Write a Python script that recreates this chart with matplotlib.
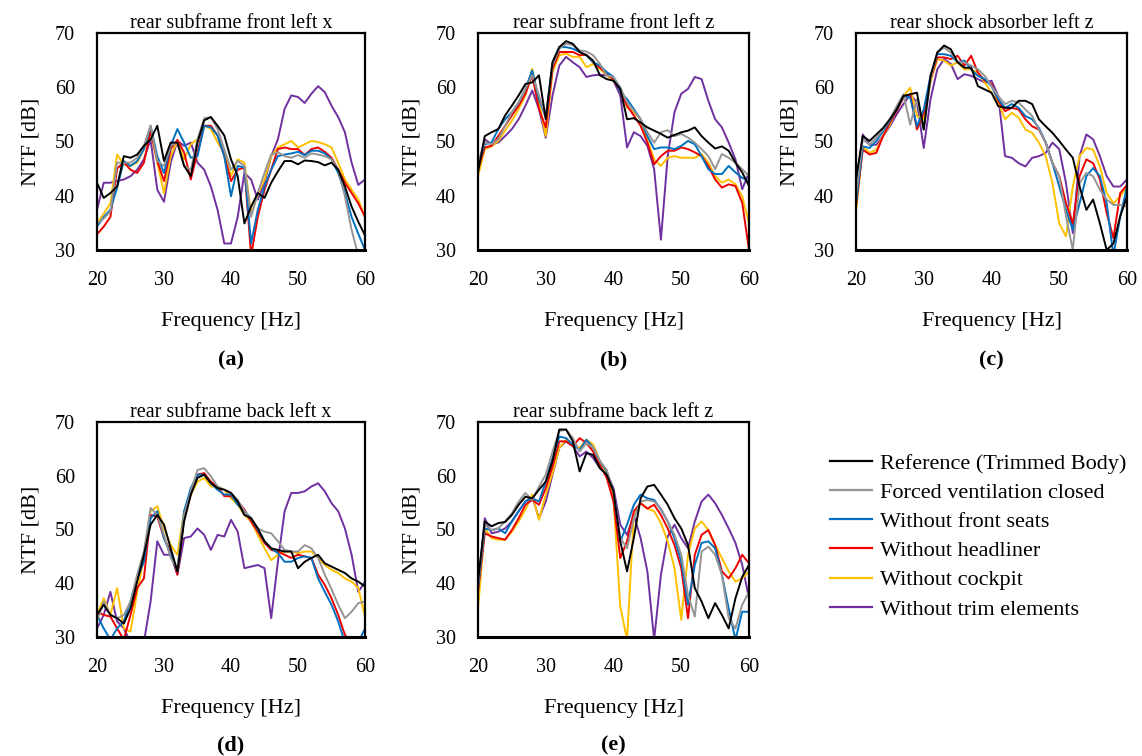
"""
NTF comparison at rear chassis points, five panels + shared legend
"""

import numpy as np
import matplotlib
matplotlib.use("Agg")
import matplotlib.pyplot as plt

plt.rcParams['font.family'] = ['Liberation Serif', 'DejaVu Serif']
plt.rcParams['axes.unicode_minus'] = False

# frequency grid [Hz]
freq = np.arange(20, 61)

series_labels = ['Reference (Trimmed Body)', 'Forced ventilation closed', 'Without front seats',
                 'Without headliner', 'Without cockpit', 'Without trim elements']
series_colors = ['#000000', '#959595', '#0070c0', '#ee0000', '#ffc000', '#7030a0']

panel_titles = ['rear subframe front left x', 'rear subframe front left z',
                'rear shock absorber left z', 'rear subframe back left x',
                'rear subframe back left z']
panel_tags = ['(a)', '(b)', '(c)', '(d)', '(e)']

xticks = [20, 30, 40, 50, 60]
yticks = [30, 40, 50, 60, 70]

# (a) rear subframe front left x  [dB]
a_ref = [42.4, 39.6, 40.5, 41.7, 47.3, 47.0, 47.6, 49.2, 50.4, 52.9, 46.4, 49.8, 49.8, 45.5, 43.6, 49.8, 53.9,
         54.5, 52.9, 51.1, 46.7, 43.6, 34.9, 38.0, 40.5, 39.6, 42.4, 44.5, 46.4, 46.4, 45.8, 46.5, 46.4, 46.2,
         45.6, 46.1, 44.8, 41.7, 38.0, 35.2, 32.7]
a_vent = [34.9, 35.8, 37.1, 46.1, 46.1, 46.1, 47.0, 49.2, 52.9, 46.4, 45.5, 49.2, 49.8, 45.5, 44.8, 50.4, 54.3,
          54.5, 52.3, 48.6, 44.8, 46.4, 45.5, 36.1, 40.5, 44.2, 47.6, 48.0, 47.3, 47.0, 47.5, 47.0, 47.8, 47.6,
          47.3, 46.7, 44.8, 39.9, 33.7, 29.0, 27.0]
a_seats = [34.3, 36.1, 37.4, 41.5, 46.4, 45.5, 46.4, 48.6, 52.9, 47.3, 44.2, 49.2, 52.3, 49.8, 47.0, 47.3, 52.9,
           52.6, 51.1, 47.3, 39.9, 45.5, 45.2, 31.2, 37.4, 41.7, 44.8, 47.3, 47.6, 47.8, 48.1, 47.5, 48.3, 48.3,
           47.8, 46.7, 44.2, 40.5, 36.1, 33.0, 30.0]
a_headliner = [32.9, 34.3, 36.1, 45.0, 46.2, 44.8, 44.2, 46.1, 52.0, 46.4, 42.7, 48.6, 50.3, 48.0, 43.0, 48.0,
               52.9, 52.9, 51.1, 47.3, 42.7, 44.8, 45.2, 29.0, 36.1, 41.1, 44.8, 48.6, 48.9, 48.6, 48.6, 47.5,
               48.6, 48.9, 48.1, 47.0, 44.8, 42.4, 40.5, 38.6, 36.1]
a_cockpit = [34.9, 36.7, 38.6, 47.6, 45.8, 45.5, 46.1, 48.6, 51.7, 46.1, 40.5, 47.3, 50.1, 46.7, 49.5, 50.4, 52.9,
             52.3, 49.8, 48.0, 43.6, 46.7, 46.1, 36.7, 40.2, 43.0, 47.3, 48.9, 49.5, 50.1, 48.9, 49.5, 50.1, 49.9,
             49.5, 48.9, 46.1, 43.0, 41.1, 39.3, 36.1]
a_trim = [37.4, 42.4, 42.4, 42.7, 43.0, 43.6, 44.8, 46.7, 50.4, 41.1, 38.9, 46.1, 50.1, 49.2, 49.8, 46.1, 44.8,
          41.7, 37.4, 31.2, 31.2, 36.1, 44.2, 43.0, 39.3, 42.4, 47.3, 50.4, 56.0, 58.5, 58.2, 57.1, 58.8, 60.2,
          59.1, 56.6, 54.5, 51.7, 46.1, 42.0, 43.0]

# (b) rear subframe front left z
b_ref = [44.3, 51.0, 51.7, 52.3, 54.8, 56.6, 58.5, 60.6, 60.9, 62.2, 54.1, 64.6, 67.4, 68.5, 68.0, 66.5, 65.9,
         64.9, 62.2, 61.5, 61.2, 59.7, 54.1, 54.3, 53.5, 52.6, 52.0, 51.4, 50.7, 51.2, 51.7, 52.0, 52.6, 51.0,
         49.8, 48.7, 49.1, 48.3, 46.1, 44.3, 41.8]
b_vent = [46.1, 49.8, 49.5, 50.4, 52.9, 55.4, 57.2, 59.7, 62.2, 58.5, 54.4, 64.0, 67.1, 68.0, 67.8, 66.8, 66.6,
          65.9, 64.3, 62.2, 61.9, 60.0, 57.2, 55.7, 54.1, 51.7, 49.8, 51.7, 52.1, 51.0, 51.4, 50.7, 49.8, 48.6,
          47.3, 44.9, 47.7, 47.0, 46.1, 44.9, 43.6]
b_seats = [45.5, 49.5, 49.8, 52.3, 54.1, 55.4, 57.2, 59.7, 63.1, 57.8, 54.4, 64.6, 67.4, 67.4, 67.1, 66.5, 65.9,
           64.6, 64.0, 62.8, 61.9, 59.1, 57.8, 56.0, 54.1, 51.0, 48.6, 48.9, 48.9, 48.6, 49.2, 50.1, 49.5, 47.3,
           44.9, 44.0, 44.0, 45.5, 44.3, 43.3, 42.7]
b_headliner = [44.9, 48.9, 49.2, 51.0, 52.9, 54.8, 56.6, 58.8, 62.2, 56.0, 52.6, 63.4, 66.5, 66.5, 66.5, 65.9,
               66.0, 64.6, 63.6, 62.5, 61.5, 59.1, 56.6, 54.8, 52.9, 49.8, 45.8, 47.3, 48.3, 48.3, 48.9, 48.6,
               48.0, 47.3, 45.5, 43.0, 41.5, 42.1, 41.8, 38.7, 30.0]
b_cockpit = [43.6, 48.6, 49.1, 50.1, 52.0, 53.8, 56.0, 58.5, 63.4, 57.2, 51.0, 62.8, 65.9, 66.2, 65.6, 65.6, 63.7,
             64.3, 63.4, 62.2, 61.2, 59.7, 56.3, 55.4, 54.1, 50.4, 46.7, 45.5, 47.0, 47.3, 47.0, 47.0, 47.0, 47.7,
             46.1, 43.6, 42.4, 43.0, 42.1, 39.9, 34.9]
b_trim = [45.5, 50.4, 49.5, 49.8, 51.0, 52.3, 54.1, 56.6, 59.4, 56.0, 50.7, 58.5, 64.0, 65.6, 64.6, 63.7, 61.9,
          62.2, 62.3, 62.2, 61.2, 58.5, 48.9, 51.7, 51.0, 49.2, 44.9, 31.9, 47.3, 55.4, 58.8, 59.7, 61.9, 61.5,
          57.5, 54.1, 52.6, 49.8, 46.7, 41.2, 44.3]

# (c) rear shock absorber left z
c_ref = [43.0, 51.0, 50.1, 51.3, 52.5, 54.1, 55.9, 58.4, 58.7, 59.0, 52.2, 62.1, 66.4, 67.7, 67.0, 64.6, 63.6,
         63.6, 60.2, 59.6, 59.0, 56.5, 56.2, 56.2, 57.5, 57.5, 56.9, 54.1, 52.8, 51.6, 50.1, 48.5, 47.0, 41.7,
         37.4, 39.3, 34.9, 30.0, 31.2, 36.2, 39.9]
c_vent = [39.9, 50.4, 49.4, 50.7, 52.2, 54.1, 56.5, 58.7, 53.1, 57.8, 52.2, 61.5, 66.4, 67.3, 66.4, 64.6, 64.6,
          64.0, 63.3, 62.1, 60.2, 58.4, 56.9, 57.5, 57.2, 55.9, 54.7, 52.2, 49.8, 46.0, 43.6, 36.2, 30.0, 42.3,
          44.2, 43.6, 41.1, 39.3, 38.3, 38.3, 38.0]
c_seats = [38.6, 49.1, 48.8, 50.1, 51.9, 53.8, 55.9, 58.4, 58.1, 52.8, 55.9, 62.1, 66.1, 66.1, 65.8, 64.6, 64.9,
           63.3, 62.1, 61.5, 60.2, 57.8, 56.2, 56.9, 56.2, 54.7, 54.1, 52.5, 49.8, 46.0, 41.7, 37.4, 33.7, 38.6,
           43.6, 45.1, 43.6, 38.6, 29.0, 36.2, 41.7]
c_headliner = [38.0, 48.5, 47.6, 47.9, 51.0, 53.5, 55.6, 58.1, 58.7, 52.2, 55.3, 61.5, 65.5, 65.5, 65.2, 65.8,
               64.0, 65.8, 62.7, 61.2, 60.6, 57.5, 55.6, 56.2, 55.9, 54.1, 52.8, 52.2, 49.8, 46.0, 43.6, 38.6,
               34.9, 43.6, 46.7, 46.0, 43.0, 36.8, 32.2, 40.5, 42.0]
c_cockpit = [37.1, 49.1, 47.9, 48.5, 51.0, 53.1, 55.9, 58.4, 59.9, 54.7, 54.1, 60.9, 65.2, 64.9, 64.0, 64.6, 63.3,
             63.3, 62.7, 60.9, 59.0, 57.2, 54.1, 55.3, 54.4, 52.2, 51.6, 49.8, 47.3, 42.3, 34.9, 32.5, 41.7, 47.3,
             48.8, 48.5, 45.4, 40.5, 38.6, 39.9, 41.7]
c_trim = [41.7, 51.3, 49.4, 49.4, 51.0, 52.8, 55.0, 56.9, 58.7, 57.2, 48.8, 57.8, 63.3, 65.2, 64.3, 61.5, 62.4,
          62.1, 61.5, 60.9, 61.2, 58.4, 47.3, 47.0, 46.0, 45.4, 47.0, 47.3, 47.9, 49.8, 48.6, 42.3, 33.1, 47.3,
          51.3, 50.4, 47.3, 43.6, 41.7, 41.7, 43.0]

# (d) rear subframe back left x
d_ref = [34.1, 36.0, 34.1, 33.5, 32.5, 35.3, 40.3, 45.3, 50.9, 52.7, 50.9, 46.5, 42.2, 51.5, 56.5, 59.6, 60.2,
         58.6, 57.7, 57.4, 56.8, 55.2, 52.7, 52.1, 50.2, 47.8, 46.5, 46.2, 45.9, 45.9, 42.8, 44.0, 44.7, 45.3,
         43.7, 43.1, 42.5, 41.9, 40.9, 40.3, 39.4]
d_vent = [32.9, 36.6, 34.1, 33.5, 34.1, 36.6, 41.6, 45.9, 54.0, 52.7, 49.0, 44.7, 42.8, 52.7, 57.1, 61.1, 61.4,
          59.9, 58.0, 57.4, 56.8, 55.5, 53.4, 52.1, 50.2, 49.6, 49.3, 47.8, 46.2, 45.9, 45.9, 47.1, 46.5, 44.7,
          41.6, 38.9, 36.0, 33.5, 34.7, 36.3, 36.6]
d_seats = [34.1, 31.6, 29.5, 31.6, 32.9, 36.6, 40.9, 44.0, 52.1, 53.4, 48.4, 45.3, 42.2, 53.4, 57.7, 60.2, 60.2,
           58.6, 57.4, 56.5, 56.5, 54.6, 53.4, 52.1, 50.0, 47.8, 46.5, 45.6, 44.0, 44.0, 44.7, 45.0, 44.7, 40.9,
           38.4, 36.0, 32.9, 29.0, 29.0, 29.0, 31.6]
d_headliner = [34.7, 34.1, 33.8, 31.6, 29.5, 34.1, 39.1, 40.9, 52.7, 52.4, 48.4, 45.9, 41.6, 52.1, 56.5, 60.2,
               60.5, 58.9, 58.0, 56.2, 56.2, 55.2, 53.7, 51.5, 49.6, 47.5, 46.2, 45.9, 45.3, 44.7, 45.3, 45.0,
               44.7, 41.6, 39.7, 37.2, 34.1, 30.4, 29.0, 29.0, 29.0]
d_cockpit = [34.1, 37.2, 34.1, 39.1, 31.6, 31.0, 38.4, 44.7, 53.4, 54.3, 50.2, 47.1, 45.3, 53.4, 56.5, 58.9, 59.6,
             58.0, 58.0, 57.4, 55.8, 54.6, 52.7, 51.5, 49.0, 46.5, 44.3, 45.3, 45.9, 45.9, 45.6, 45.9, 45.9, 44.7,
             43.4, 42.5, 41.9, 40.9, 40.3, 39.1, 33.8]
d_trim = [31.6, 34.1, 38.4, 32.9, 31.6, 29.0, 29.0, 29.0, 36.6, 47.8, 45.3, 45.3, 41.6, 48.4, 48.7, 50.2, 49.0,
          46.2, 49.0, 48.7, 51.8, 49.6, 42.8, 43.1, 43.4, 42.8, 33.5, 44.0, 53.4, 56.8, 56.8, 57.1, 58.0, 58.6,
          57.1, 54.9, 53.4, 50.2, 45.3, 38.4, 40.3]

# (e) rear subframe back left z
e_ref = [40.3, 51.5, 50.6, 51.2, 51.4, 52.7, 54.6, 56.1, 55.8, 57.4, 58.9, 62.7, 68.6, 68.6, 66.4, 60.8, 64.2,
         63.9, 61.4, 60.2, 57.1, 47.8, 42.2, 48.4, 55.8, 58.0, 58.3, 56.5, 54.6, 52.1, 50.2, 47.1, 39.1, 36.6,
         33.5, 36.3, 34.1, 31.6, 37.2, 41.2, 43.4]
e_vent = [39.7, 50.9, 49.9, 50.2, 51.5, 53.0, 55.2, 56.8, 55.5, 58.0, 60.2, 64.5, 68.3, 68.6, 67.0, 64.5, 66.1,
          65.2, 62.7, 61.1, 57.1, 48.4, 46.5, 52.1, 55.2, 55.5, 55.2, 53.9, 51.5, 49.0, 45.3, 37.8, 33.8, 45.9,
          46.8, 45.3, 41.6, 33.5, 31.6, 36.0, 38.4]
e_seats = [39.1, 50.2, 49.9, 50.2, 49.3, 51.5, 53.4, 55.2, 55.8, 55.2, 58.9, 63.3, 67.3, 67.0, 65.8, 64.8, 66.7,
           65.2, 62.7, 60.8, 57.1, 47.8, 50.9, 54.6, 56.5, 55.8, 55.5, 53.7, 51.5, 48.4, 44.0, 36.0, 43.4, 47.5,
           47.8, 46.5, 41.6, 35.3, 29.5, 34.7, 34.7]
e_headliner = [38.4, 49.3, 48.7, 48.4, 48.1, 49.9, 52.1, 54.6, 55.5, 54.6, 57.7, 61.7, 66.4, 66.4, 65.5, 67.0,
               66.1, 64.5, 62.0, 59.6, 55.2, 44.7, 47.8, 53.4, 54.9, 53.9, 54.6, 52.7, 50.2, 47.1, 42.8, 33.5,
               45.3, 49.0, 49.9, 47.1, 42.2, 40.9, 42.8, 45.3, 43.7]
e_cockpit = [35.3, 50.2, 48.4, 48.1, 48.1, 49.6, 51.5, 53.7, 56.5, 51.8, 56.5, 60.5, 65.2, 66.7, 65.8, 65.2, 66.7,
             65.8, 62.7, 60.2, 55.8, 35.7, 29.5, 52.7, 54.9, 53.9, 53.4, 51.2, 47.8, 42.8, 33.2, 45.3, 50.2, 51.5,
             49.9, 47.1, 44.7, 42.2, 40.3, 40.9, 42.2]
e_trim = [39.1, 52.1, 49.3, 49.6, 50.2, 51.5, 53.4, 55.2, 56.1, 52.1, 55.2, 60.2, 65.2, 66.4, 65.5, 63.6, 64.5,
          63.3, 61.4, 60.5, 57.7, 50.9, 49.0, 52.7, 48.4, 42.2, 29.5, 41.6, 48.7, 50.9, 48.4, 46.5, 51.5, 55.2,
          56.5, 54.9, 52.7, 50.2, 47.5, 43.4, 37.2]

panel_data = [
    [a_ref, a_vent, a_seats, a_headliner, a_cockpit, a_trim],
    [b_ref, b_vent, b_seats, b_headliner, b_cockpit, b_trim],
    [c_ref, c_vent, c_seats, c_headliner, c_cockpit, c_trim],
    [d_ref, d_vent, d_seats, d_headliner, d_cockpit, d_trim],
    [e_ref, e_vent, e_seats, e_headliner, e_cockpit, e_trim],
]

W, H = 1142, 756
# axes boxes in pixels: left, right, top, bottom
boxes_px = [(97, 365, 33, 250), (478, 749, 33, 250), (856, 1127, 33, 250),
            (97, 365, 422, 637), (478, 749, 422, 637)]
tag_y_px = [360, 360, 360, 745, 745]


def draw_panel(fig, box, title, tag, tag_y, curves):
    l, r, t, b = box
    ax = fig.add_axes([l / W, 1 - b / H, (r - l) / W, (b - t) / H])

    # plot in reverse so the reference sits on top
    for vals, color in reversed(list(zip(curves, series_colors))):
        ax.plot(freq, vals, color=color, linewidth=1.4, clip_on=True)

    ax.set_xlim(20, 60)
    ax.set_ylim(30, 70)
    ax.set_xticks(xticks)
    ax.set_yticks(yticks)
    ax.tick_params(length=0, labelsize=14.5)
    ax.tick_params(axis='x', pad=15)
    ax.tick_params(axis='y', pad=16)
    for s in ax.spines.values():
        s.set_linewidth(1.6)
    ax.spines['bottom'].set_linewidth(2.2)

    ax.set_title(title, fontsize=14.5, pad=3)
    ax.set_xlabel('Frequency [Hz]', fontsize=16, labelpad=16)
    ax.set_ylabel('NTF [dB]', fontsize=16, labelpad=10)

    fig.text((l + r) / 2 / W, 1 - tag_y / H, tag, ha='center', va='center',
             fontsize=16, fontweight='bold')
    return ax


def main():
    fig = plt.figure(figsize=(W / 100, H / 100), dpi=100)

    for box, title, tag, ty, curves in zip(boxes_px, panel_titles, panel_tags, tag_y_px, panel_data):
        draw_panel(fig, box, title, tag, ty, curves)

    handles = [plt.Line2D([], [], color=c, linewidth=1.6) for c in series_colors]
    fig.legend(handles, series_labels, loc='upper left',
               bbox_to_anchor=(810 / W, 1 - 433 / H), frameon=False,
               fontsize=16, handlelength=1.9, handletextpad=0.35, labelspacing=0.39)

    fig.savefig('out.png', dpi=100)
    plt.close(fig)


if __name__ == "__main__":
    main()
